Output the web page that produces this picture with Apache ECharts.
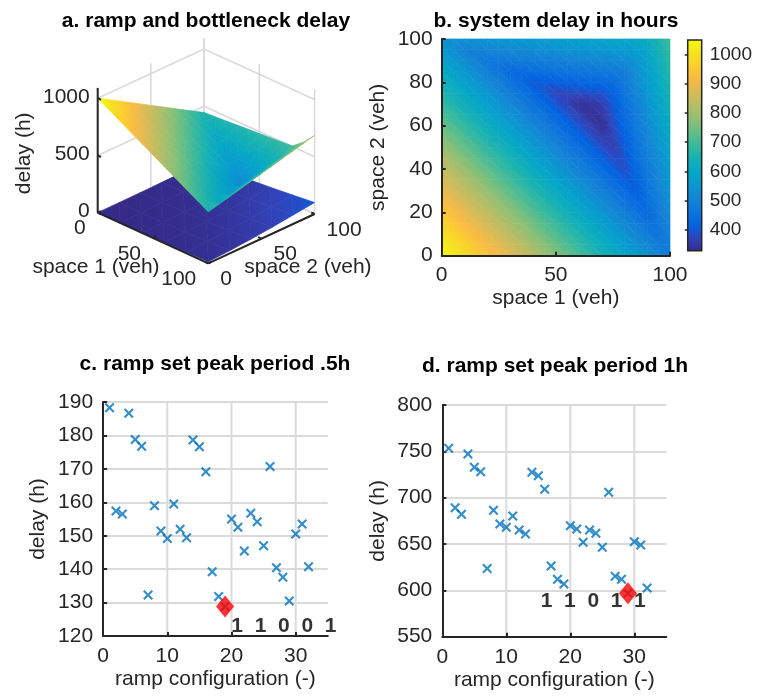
<!DOCTYPE html>
<html><head><meta charset="utf-8">
<script src="https://cdn.jsdelivr.net/npm/echarts@6/dist/echarts.min.js"></script>
<style>html,body{margin:0;padding:0;background:#fff}#c{width:757px;height:696px}</style>
</head><body><div id="c"></div>
<script>
// ================= DATA =================
// panel a: bottleneck delay surface (rows = space 2, cols = space 1)
const surfS1 = [0,10,20,30,40,50,60,70,80,90,100];
const surfS2 = [0,10,20,30,40,50,60,70,80,90,100];
const bottleneckDelay = [
  [1000,945,890,835,780,725,669,614,559,504,449],
  [944,889,834,779,724,669,614,559,504,449,473],
  [889,834,779,724,668,613,558,503,448,393,497],
  [833,778,723,668,613,558,503,448,392,417,520],
  [778,723,667,612,557,502,447,392,337,441,544],
  [722,667,612,557,502,447,391,336,361,464,568],
  [666,611,556,501,446,391,336,281,384,488,592],
  [611,556,501,446,390,335,280,305,408,512,616],
  [555,500,445,390,335,343,350,358,432,536,639],
  [500,445,389,397,405,413,420,428,456,560,663],
  [444,452,459,467,475,483,490,498,506,583,687]
];
// panel a: ramp delay surface
const rampS1 = [0,20,40,60,80,100];
const rampS2 = [0,20,40,60,80,100];
const rampDelay = [
  [0,0,2,5,9,14],
  [0,2,5,10,16,24],
  [2,5,10,17,27,38],
  [5,10,17,28,42,56],
  [9,16,27,42,60,78],
  [14,24,38,56,78,100]
];
const zTicks = [0,500,1000];
const s1Ticks = [0,50,100];
const s2Ticks = [0,50,100];

// panel b: system delay (rows = space 2, cols = space 1)
const sysS1 = [0,5,10,15,20,25,30,35,40,45,50,55,60,65,70,75,80,85,90,95,100];
const sysS2 = [0,5,10,15,20,25,30,35,40,45,50,55,60,65,70,75,80,85,90,95,100];
const systemDelay = [
  [1050,1022,993,965,936,908,879,851,822,794,765,737,708,680,651,623,594,566,537,509,480],
  [1024,996,967,939,910,882,853,825,796,768,739,711,682,654,625,597,568,540,511,483,491],
  [998,970,941,913,884,856,827,799,770,742,713,685,656,628,599,571,542,514,485,457,502],
  [972,944,915,887,858,830,801,773,744,716,687,659,630,602,573,545,516,488,459,467,512],
  [946,918,889,861,832,804,775,747,718,690,661,633,604,576,547,519,490,462,433,478,523],
  [920,892,863,835,806,778,749,721,692,664,635,607,578,550,521,493,464,436,444,489,534],
  [894,866,837,809,780,752,723,695,666,638,609,581,552,524,495,467,438,410,455,500,545],
  [868,840,811,783,754,726,697,669,640,612,583,555,526,498,469,441,412,420,465,510,555],
  [842,814,785,757,728,700,671,643,614,586,557,529,500,472,443,415,386,431,476,521,566],
  [816,788,759,731,702,674,645,617,588,560,531,503,474,446,417,389,397,442,487,532,577],
  [790,762,733,705,676,648,619,591,562,534,505,477,448,420,391,363,408,453,498,543,588],
  [764,736,707,679,650,622,593,565,536,508,479,451,422,394,365,373,418,463,508,553,598],
  [738,710,681,653,624,596,567,539,510,482,453,425,396,368,339,384,429,474,519,564,609],
  [712,684,655,627,598,570,541,513,484,456,427,399,370,342,350,395,440,485,530,575,620],
  [686,658,629,601,572,544,515,487,458,430,401,373,344,349,361,406,451,496,541,586,631],
  [660,632,603,575,546,518,489,461,432,404,375,380,384,389,393,416,461,506,551,596,641],
  [634,606,577,549,520,492,463,435,406,411,415,420,424,429,433,438,472,517,562,607,652],
  [608,580,551,523,494,466,437,442,446,451,455,460,464,469,473,478,483,528,573,618,663],
  [582,554,525,497,468,473,477,482,486,491,495,500,504,509,513,518,522,539,584,629,674],
  [556,528,499,504,508,513,517,522,526,531,535,540,544,549,553,558,562,567,594,639,684],
  [530,535,539,544,548,553,557,562,566,571,575,580,584,589,593,598,602,607,611,650,695]
];
const cbRange = [329, 1049];
const cbTicks = [400,500,600,700,800,900,1000];
const surfCRange = [0, 1000];

// panels c, d
const rampConfig = [1,2,3,4,5,6,7,8,9,10,11,12,13,14,15,16,17,18,19,20,21,22,23,24,25,26,27,28,29,30,31,32];
const delayHalfHour = [188.3,157.4,156.5,186.6,178.8,176.8,132.3,159.0,151.4,149.2,159.5,151.9,149.4,178.6,176.6,169.1,139.2,131.8,128.8,155.0,152.5,145.4,156.7,154.2,147.0,170.7,140.4,137.6,130.5,150.5,153.5,140.7];
const delayOneHour = [753.3,689.2,682.0,747.1,732.8,728.0,623.7,686.4,671.6,668.0,680.3,665.2,660.8,727.4,723.7,709.0,626.3,612.0,606.9,669.8,666.2,651.9,665.2,661.6,646.5,705.8,615.2,612.0,596.9,652.5,648.9,602.6];
const bestHalfHour = [19, 128.8];
const bestOneHour = [29, 596.9];
const codeHalfHour = '1  1  0  0  1';
const codeHalfHourAt = [19.9, 122.8];
const codeOneHour = '1  1  0  1  1';
const codeOneHourAt = [15.3, 587.8];
const cfgTicks = [0,10,20,30];

// ================= STYLE =================
const FONT = "'Liberation Sans', Arial, Helvetica, sans-serif";
const INK = '#262626';
const GRIDC = '#dadada';
const parula = ['#352A87','#3243BA','#0363E1','#0D75DC','#1485D4','#0998D1','#06A7C6','#15B1B4','#38B99E','#65BE86','#92BF73','#B7BD64','#D9BA56','#F8BA44','#FCCE2E','#F5E41D','#F9FB0E'];
const view3d = {ox: 97.7, oy: 212.7, e1: [1.106, 0.506], e2: [1.063, -0.493], ez: 0.1145, zTop: 1090};
const xMark = 'path://M0,1.5L1.5,0L5,3.5L8.5,0L10,1.5L6.5,5L10,8.5L8.5,10L5,6.5L1.5,10L0,8.5L3.5,5Z';

const parulaRgb = parula.map(function (h) { return [parseInt(h.slice(1,3),16), parseInt(h.slice(3,5),16), parseInt(h.slice(5,7),16)]; });
function cmap(t) {
  t = Math.max(0, Math.min(1, t));
  const n = parulaRgb.length - 1;
  const k = Math.min(n - 1, Math.floor(t * n));
  const f = t * n - k;
  const a = parulaRgb[k], b = parulaRgb[k + 1];
  return 'rgb(' + [0,1,2].map(function (c) { return Math.round(a[c] + (b[c] - a[c]) * f); }).join(',') + ')';
}
// triangle filled with a linear gradient that follows the colormap across its 3 vertex values
function shadedTriangle(P, V, lo, hi) {
  const p0 = P[0], p1 = P[1], p2 = P[2];
  const d1 = [p1[0]-p0[0], p1[1]-p0[1]], d2 = [p2[0]-p0[0], p2[1]-p0[1]];
  const det = d1[0]*d2[1] - d1[1]*d2[0];
  const vmin = Math.min(V[0], V[1], V[2]), vmax = Math.max(V[0], V[1], V[2]);
  let fill;
  if (Math.abs(det) < 1e-6 || vmax - vmin < 1e-6) {
    fill = cmap(((V[0]+V[1]+V[2])/3 - lo)/(hi - lo));
  } else {
    const dv1 = V[1] - V[0], dv2 = V[2] - V[0];
    const gx = (dv1*d2[1] - dv2*d1[1]) / det;
    const gy = (d1[0]*dv2 - d2[0]*dv1) / det;
    const g2 = gx*gx + gy*gy;
    const S = P[V.indexOf(vmin)];
    const span = vmax - vmin;
    const E = [S[0] + gx*span/g2, S[1] + gy*span/g2];
    const stops = [];
    const N = 6;
    for (let s = 0; s <= N; s++) {
      stops.push({offset: s/N, color: cmap((vmin + span*s/N - lo)/(hi - lo))});
    }
    fill = new echarts.graphic.LinearGradient(S[0], S[1], E[0], E[1], stops, true);
  }
  return {type: 'polygon', shape: {points: P}, style: {fill: fill, stroke: fill, lineWidth: 0.7}};
}
function shadedQuad(pts, vals, lo, hi, z2) {
  return {type: 'group', z2: z2, children: [
    shadedTriangle([pts[0], pts[1], pts[3]], [vals[0], vals[1], vals[3]], lo, hi),
    shadedTriangle([pts[1], pts[2], pts[3]], [vals[1], vals[2], vals[3]], lo, hi)
  ]};
}

function proj(s1, s2, z) {
  return [view3d.ox + view3d.e1[0]*s1 + view3d.e2[0]*s2,
          view3d.oy + view3d.e1[1]*s1 + view3d.e2[1]*s2 - view3d.ez*z];
}

function surfaceCells(xs, ys, Z) {
  const cells = [];
  for (let j = 0; j < ys.length - 1; j++) {
    for (let i = 0; i < xs.length - 1; i++) {
      cells.push([i, j, Z[j][i], (xs[i]+xs[i+1])/2 - (ys[j]+ys[j+1])/2]);
    }
  }
  cells.sort(function (a, b) { return a[3] - b[3]; });
  return cells;
}

function surfRender(xs, ys, Z) {
  return function (params, api) {
    const i = api.value(0), j = api.value(1);
    const idx = [[i,j],[i+1,j],[i+1,j+1],[i,j+1]];
    const pts = idx.map(function (q) { return api.coord(proj(xs[q[0]], ys[q[1]], Z[q[1]][q[0]])); });
    const vals = idx.map(function (q) { return Z[q[1]][q[0]]; });
    return shadedQuad(pts, vals, surfCRange[0], surfCRange[1], params.dataIndex);
  };
}

function wallsRender(params, api) {
  const ch = [];
  const seg = function (a, b) {
    const p = api.coord(a), q = api.coord(b);
    ch.push({type: 'line', shape: {x1: p[0], y1: p[1], x2: q[0], y2: q[1]},
             style: {stroke: GRIDC, lineWidth: 1.6}});
  };
  zTicks.forEach(function (z) {
    seg(proj(0,0,z), proj(0,100,z));
    seg(proj(0,100,z), proj(100,100,z));
  });
  s2Ticks.forEach(function (s) { seg(proj(0,s,0), proj(0,s,view3d.zTop)); });
  s1Ticks.forEach(function (s) { seg(proj(s,100,0), proj(s,100,view3d.zTop)); });
  s1Ticks.forEach(function (s) { seg(proj(s,0,0), proj(s,100,0)); });
  s2Ticks.forEach(function (s) { seg(proj(0,s,0), proj(100,s,0)); });
  return {type: 'group', children: ch};
}

function axes3dRender(params, api) {
  const ch = [];
  const P = function (a, b, c) { return api.coord(proj(a, b, c)); };
  const line = function (p, q) {
    ch.push({type: 'line', shape: {x1: p[0], y1: p[1], x2: q[0], y2: q[1]},
             style: {stroke: INK, lineWidth: 2}});
  };
  const text = function (str, p, align, rot) {
    ch.push({type: 'text', x: p[0], y: p[1], rotation: rot || 0,
             style: {text: str, align: align, verticalAlign: 'middle', fill: INK, fontSize: 21, fontFamily: FONT}});
  };
  line(P(0,0,0), P(0,0,view3d.zTop));
  zTicks.forEach(function (z) { const p = P(0,0,z); line(p, P(3,0,z)); text(String(z), [p[0]-8, p[1]-1], 'right'); });
  line(P(0,0,0), P(100,0,0));
  s1Ticks.forEach(function (s) { const p = P(s,0,0); line(p, P(s,3,0)); text(String(s), [p[0]-12, p[1]+16], 'right'); });
  line(P(100,0,0), P(100,100,0));
  s2Ticks.forEach(function (s) { const p = P(100,s,0); line(p, P(97,s,0)); text(String(s), [p[0]+12, p[1]+16], 'left'); });
  const zm = P(0,0,545); text('delay (h)', [zm[0]-73, zm[1]+3], 'center', Math.PI/2);
  const m1 = P(50,0,0); text('space 1 (veh)', [m1[0]-57, m1[1]+29], 'center');
  const m2 = P(100,50,0); text('space 2 (veh)', [m2[0]+46.5, m2[1]+28.4], 'center');
  return {type: 'group', children: ch};
}

function heatRender(params, api) {
  const i = api.value(3), j = api.value(4);
  const idx = [[i,j],[i+1,j],[i+1,j+1],[i,j+1]];
  const pts = idx.map(function (q) { return api.coord([sysS1[q[0]], sysS2[q[1]]]); });
  const vals = idx.map(function (q) { return systemDelay[q[1]][q[0]]; });
  return shadedQuad(pts, vals, cbRange[0], cbRange[1], 0);
}

function colorbarRender(params, api) {
  const p0 = api.coord([0, api.value(0)]), p1 = api.coord([1, api.value(1)]);
  const stops = parula.map(function (c, k) { return {offset: k/(parula.length-1), color: c}; });
  return {type: 'rect', shape: {x: p0[0], y: p1[1], width: p1[0]-p0[0], height: p0[1]-p1[1]},
          style: {fill: new echarts.graphic.LinearGradient(0, 1, 0, 0, stops), stroke: INK, lineWidth: 1.5}};
}

// vertical grid lines at the configuration ticks (no line at the axis end)
function vGridRender(yMin, yMax) {
  return function (params, api) {
    const x = api.value(0);
    const p = api.coord([x, yMin]), q = api.coord([x, yMax]);
    return {type: 'line', shape: {x1: p[0], y1: p[1], x2: q[0], y2: q[1]}, style: {stroke: GRIDC, lineWidth: 2}};
  };
}

// ================= BUILD =================
const heatCells = [];
for (let j = 0; j < sysS2.length - 1; j++) {
  for (let i = 0; i < sysS1.length - 1; i++) {
    heatCells.push([sysS1[i], sysS2[j], systemDelay[j][i], i, j]);
  }
}

const lbl = {color: INK, fontSize: 21, fontFamily: FONT};
function valAxis(grid, min, max, interval, name, gap, margin, extra) {
  const ax = {
    gridIndex: grid, type: 'value', min: min, max: max, interval: interval,
    axisLine: {show: true, onZero: false, lineStyle: {color: INK, width: 2}},
    axisTick: {show: true, inside: true, length: 4, lineStyle: {color: INK, width: 2}},
    axisLabel: Object.assign({margin: margin}, lbl),
    splitLine: {show: true, showMinLine: false, lineStyle: {color: GRIDC, width: 2}},
    name: name, nameLocation: 'middle', nameGap: gap, nameTextStyle: lbl, z: 0
  };
  return Object.assign(ax, extra || {});
}
const hidden = function (grid, min, max, inv) {
  return {gridIndex: grid, type: 'value', min: min, max: max, inverse: !!inv, show: false,
          axisLine: {show: false}, axisTick: {show: false}, axisLabel: {show: false}, splitLine: {show: false}};
};
const cfgAxisExtra = {
  axisTick: {show: true, inside: true, length: 4, customValues: cfgTicks, lineStyle: {color: INK, width: 2}},
  axisLabel: Object.assign({margin: 10, customValues: cfgTicks}, lbl),
  splitLine: {show: false}
};

const titleStyle = {fontSize: 21, fontWeight: 'bold', color: '#000', fontFamily: FONT};
const option = {
  animation: false,
  textStyle: {fontFamily: FONT},
  title: [
    {text: 'a. ramp and bottleneck delay', left: 206, top: 11, textAlign: 'center', padding: 0, textStyle: titleStyle},
    {text: 'b. system delay in hours', left: 556, top: 11, textAlign: 'center', padding: 0, textStyle: titleStyle},
    {text: 'c. ramp set peak period .5h', left: 215, top: 354, textAlign: 'center', padding: 0, textStyle: titleStyle},
    {text: 'd. ramp set peak period 1h', left: 555, top: 356, textAlign: 'center', padding: 0, textStyle: titleStyle}
  ],
  grid: [
    {left: 0, top: 0, width: 757, height: 696},
    {left: 441.7, top: 39, width: 228.3, height: 216.7},
    {left: 687.7, top: 40, width: 14, height: 210.7},
    {left: 103.1, top: 402, width: 224.7, height: 234},
    {left: 442.3, top: 405, width: 224, height: 231.7}
  ],
  xAxis: [
    hidden(0, 0, 757),
    valAxis(1, 0, 100, 50, 'space 1 (veh)', 32, 9, {splitLine: {show: false}, z: 10}),
    hidden(2, 0, 1),
    valAxis(3, 0, 35, 10, 'ramp configuration (-)', 33, 10, cfgAxisExtra),
    valAxis(4, 0, 35, 10, 'ramp configuration (-)', 33, 10, cfgAxisExtra)
  ],
  yAxis: [
    hidden(0, 0, 696, true),
    valAxis(1, 0, 100, 20, 'space 2 (veh)', 53, 9, {splitLine: {show: false}, z: 10}),
    {gridIndex: 2, type: 'value', min: cbRange[0], max: cbRange[1], position: 'right',
     axisLine: {show: false},
     axisTick: {show: true, inside: true, length: 3, customValues: cbTicks, lineStyle: {color: INK, width: 1.5}},
     axisLabel: {customValues: cbTicks, formatter: function (v) { return String(v); }, color: INK, fontSize: 19, fontFamily: FONT, margin: 8},
     splitLine: {show: false}, z: 10},
    valAxis(3, 120, 190, 10, 'delay (h)', 54, 10),
    valAxis(4, 550, 800, 50, 'delay (h)', 54, 10)
  ],
  series: [
    {type: 'custom', xAxisIndex: 0, yAxisIndex: 0, z: 1, silent: true, data: [[0, 0, 0]], renderItem: wallsRender},
    {type: 'custom', xAxisIndex: 0, yAxisIndex: 0, z: 2, silent: true,
     data: surfaceCells(rampS1, rampS2, rampDelay), renderItem: surfRender(rampS1, rampS2, rampDelay)},
    {type: 'custom', xAxisIndex: 0, yAxisIndex: 0, z: 3, silent: true,
     data: surfaceCells(surfS1, surfS2, bottleneckDelay), renderItem: surfRender(surfS1, surfS2, bottleneckDelay)},
    {type: 'custom', xAxisIndex: 0, yAxisIndex: 0, z: 4, silent: true, data: [[0, 0, 0]], renderItem: axes3dRender},
    {type: 'custom', xAxisIndex: 1, yAxisIndex: 1, z: 2, silent: true, data: heatCells, renderItem: heatRender},
    {type: 'custom', xAxisIndex: 2, yAxisIndex: 2, z: 2, silent: true, data: [[cbRange[0], cbRange[1]]], renderItem: colorbarRender},
    {type: 'custom', xAxisIndex: 3, yAxisIndex: 3, z: 0, silent: true, data: cfgTicks.slice(1).map(function (v) { return [v]; }), renderItem: vGridRender(120, 190)},
    {type: 'custom', xAxisIndex: 4, yAxisIndex: 4, z: 0, silent: true, data: cfgTicks.slice(1).map(function (v) { return [v]; }), renderItem: vGridRender(550, 800)},
    {type: 'scatter', xAxisIndex: 3, yAxisIndex: 3, z: 3, silent: true, symbol: xMark, symbolSize: 10,
     itemStyle: {color: '#0072BD'}, data: rampConfig.map(function (x, k) { return [x, delayHalfHour[k]]; })},
    {type: 'scatter', xAxisIndex: 3, yAxisIndex: 3, z: 4, silent: true, symbol: 'diamond', symbolSize: [18, 22],
     itemStyle: {color: '#ff0000'}, data: [bestHalfHour]},
    {type: 'scatter', xAxisIndex: 3, yAxisIndex: 3, z: 5, silent: true, symbolSize: 1,
     itemStyle: {color: 'rgba(0,0,0,0)'}, data: [codeHalfHourAt],
     label: {show: true, position: 'right', distance: 0, formatter: codeHalfHour, color: '#000', fontSize: 21, fontWeight: 'bold', fontFamily: FONT}},
    {type: 'scatter', xAxisIndex: 4, yAxisIndex: 4, z: 3, silent: true, symbol: xMark, symbolSize: 10,
     itemStyle: {color: '#0072BD'}, data: rampConfig.map(function (x, k) { return [x, delayOneHour[k]]; })},
    {type: 'scatter', xAxisIndex: 4, yAxisIndex: 4, z: 4, silent: true, symbol: 'diamond', symbolSize: [18, 22],
     itemStyle: {color: '#ff0000'}, data: [bestOneHour]},
    {type: 'scatter', xAxisIndex: 4, yAxisIndex: 4, z: 5, silent: true, symbolSize: 1,
     itemStyle: {color: 'rgba(0,0,0,0)'}, data: [codeOneHourAt],
     label: {show: true, position: 'right', distance: 0, formatter: codeOneHour, color: '#000', fontSize: 21, fontWeight: 'bold', fontFamily: FONT}}
  ]
};
const chart = echarts.init(document.getElementById('c'), null, {renderer: 'canvas'});
chart.setOption(option);
</script>
</body></html>
